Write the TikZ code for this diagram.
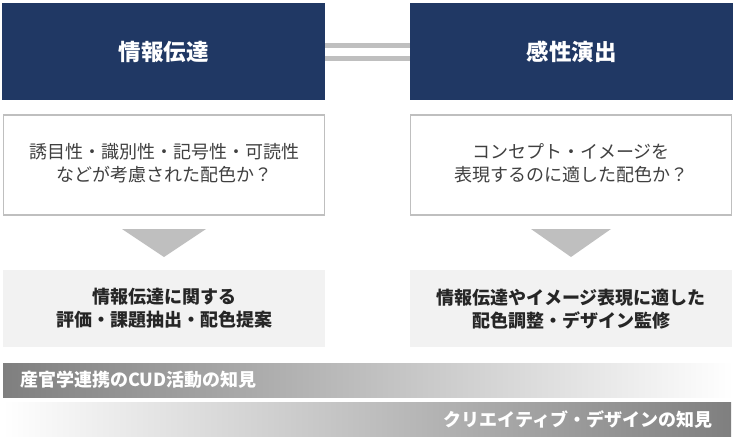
\documentclass[tikz,border=0pt]{standalone}
\usepackage{fontspec}
\setmainfont{Noto Sans CJK JP}
\usepackage{xcolor}
\usepackage{tikz}
\usetikzlibrary{positioning}
\definecolor{navy}{HTML}{203864}
\definecolor{barg}{HTML}{BFBFBF}
\definecolor{paleg}{HTML}{F2F2F2}
\definecolor{darkg}{HTML}{7F7F7F}
\newcommand{\twolines}[2]{\raisebox{-3pt}{\begin{tabular}{@{}c@{}}#1\\#2\end{tabular}}}
\tikzset{
  head/.style={fill=navy, text=white, minimum width=323pt, minimum height=97pt, inner sep=0pt, font=\fontsize{22.5}{26}\selectfont\bfseries},
  query/.style={draw=barg, line width=1.6pt, fill=white, minimum width=321pt, minimum height=100pt, inner sep=0pt, align=center, text=black!75, font=\fontsize{18}{23}\selectfont},
  offer/.style={fill=paleg, minimum width=322pt, minimum height=76.5pt, inner sep=0pt, align=center, text=black!85, font=\fontsize{18}{23}\selectfont\bfseries},
  eqbar/.style={barg, line width=4.8pt},
  arrowtri/.style={fill=barg},
  know/.style={minimum height=34pt, inner sep=0pt, text=white, font=\fontsize{18}{22}\selectfont\bfseries}
}
\begin{document}
\begin{tikzpicture}[x=1pt, y=-1pt]
\useasboundingbox (0,0) rectangle (735,440);
\node[head] (info) at (163.5,51.5) {情報伝達};
\node[head] (kansei) at (571.5,51.5) {感性演出};
\draw[eqbar] ([yshift=5.8pt]info.east) -- ([yshift=5.8pt]kansei.west);
\draw[eqbar] ([yshift=-6.8pt]info.east) -- ([yshift=-6.8pt]kansei.west);
\node[query] (infoq) at (164,165.2) {\twolines{誘目性・識別性・記号性・可読性}{などが考慮された配色か？}};
\node[query] (kanseiq) at (571,165.2) {\twolines{コンセプト・イメージを}{表現するのに適した配色か？}};
\node[offer] (infoo) at (164,308.7) {情報伝達に関する\\評価・課題抽出・配色提案};
\node[offer] (kanseio) at (571,308.7) {情報伝達やイメージ表現に適した\\配色調整・デザイン監修};
\fill[arrowtri] ([xshift=-42pt,yshift=-13pt]infoq.south) -- ([xshift=42pt,yshift=-13pt]infoq.south) -- ([yshift=-41pt]infoq.south) -- cycle;
\fill[arrowtri] ([xshift=-40pt,yshift=-13pt]kanseiq.south) -- ([xshift=40pt,yshift=-13pt]kanseiq.south) -- ([yshift=-41pt]kanseiq.south) -- cycle;
\node[know, minimum width=730pt, left color=darkg, right color=white, text width=696pt, align=left] (cud) at (368,380) {産官学連携のCUD活動の知見};
\node[know, minimum width=728pt, left color=white, right color=darkg, text width=690pt, align=right] (creative) at (367,419) {クリエイティブ・デザインの知見};
\end{tikzpicture}
\end{document}
